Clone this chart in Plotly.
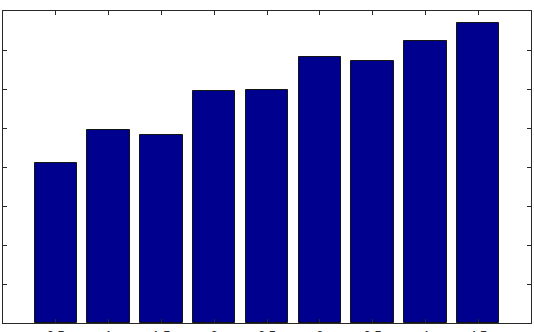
import plotly.graph_objects as go

x_vals = [0.5, 1.0, 1.5, 2.0, 2.5, 3.0, 3.5, 4.0, 4.5]
y_vals = [4.11, 4.95, 4.82, 5.95, 5.97, 6.81, 6.72, 7.24, 7.68]
x_tick_labels = ["0.5", "1", "1.5", "2", "2.5", "3", "3.5", "4", "4.5"]
y_ticks = [0, 1, 2, 3, 4, 5, 6, 7, 8]

fig = go.Figure()
fig.add_trace(go.Bar(
    x=x_vals, y=y_vals, width=0.4,
    marker=dict(color="rgb(0,0,143)", line=dict(color="rgb(20,20,20)", width=1)),
))

axis_common = dict(
    showgrid=False, zeroline=False, showline=True, linecolor="rgb(40,40,40)",
    linewidth=1, mirror="ticks", ticks="inside", ticklen=4, tickwidth=1,
    tickcolor="rgb(40,40,40)", automargin=False,
)
fig.update_xaxes(range=[0, 5], tickvals=x_vals, ticktext=x_tick_labels,
                 tickfont=dict(family="Liberation Sans", size=13, color="rgb(40,40,40)"),
                 **axis_common)
fig.update_yaxes(range=[0, 8], tickvals=y_ticks, showticklabels=False, **axis_common)

fig.update_layout(
    width=534, height=332,
    margin=dict(l=3, r=3, t=11, b=9, pad=0),
    paper_bgcolor="white", plot_bgcolor="white",
    showlegend=False, bargap=0,
)
fig.write_html("out.html")
